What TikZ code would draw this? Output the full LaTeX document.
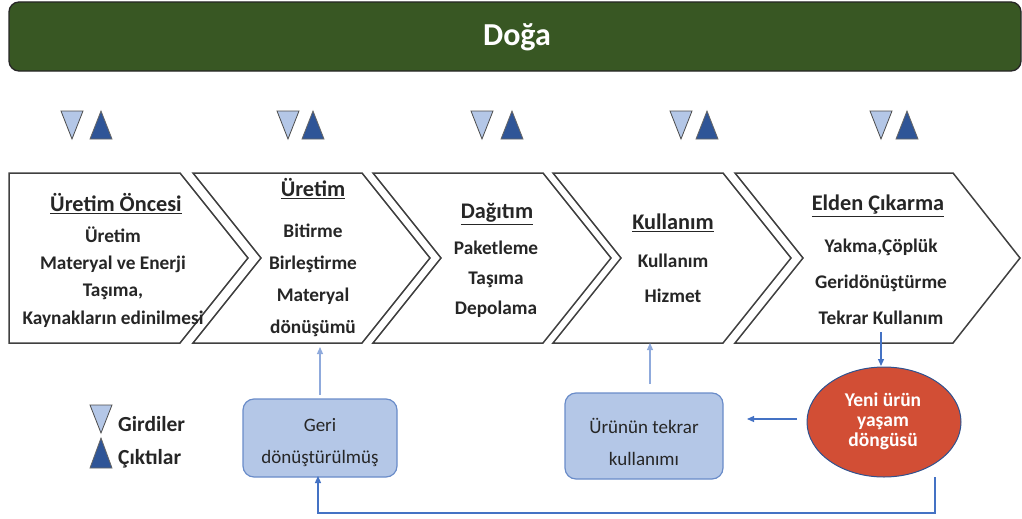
\documentclass[tikz,border=0pt]{standalone}
\usepackage{fontspec}
\setmainfont{Carlito}
\usetikzlibrary{shapes.geometric,arrows.meta}
\definecolor{doga}{HTML}{385723}
\definecolor{lblue}{HTML}{B4C7E7}
\definecolor{dblue}{HTML}{2F5597}
\definecolor{boxedge}{HTML}{6A8CC9}
\definecolor{arrblue}{HTML}{4472C4}
\definecolor{arrlight}{HTML}{8FAADC}
\definecolor{redfill}{HTML}{D24E35}
\definecolor{elledge}{HTML}{2F528F}
\definecolor{chevline}{HTML}{404040}
\tikzset{
  chev/.style={draw=chevline, line width=1.5pt, fill=white, line join=miter},
  head/.style={font=\fontsize{22.3}{24}\selectfont\bfseries, text=black!85},
  body/.style={align=center, text=black!85},
  tridown/.style={draw=black!70, line width=0.8pt, fill=lblue},
  triup/.style={draw=black!60, line width=0.8pt, fill=dblue},
  bluebox/.style={draw=boxedge, line width=1.2pt, fill=lblue, rounded corners=11pt, align=center,
    font=\fontsize{18.5}{32}\selectfont, text=black!85, inner sep=0pt},
  arr/.style={draw=arrblue, line width=1.2pt, -{Triangle[length=7pt,width=6pt]}},
  arrl/.style={draw=arrlight, line width=1.2pt, -{Triangle[length=7pt,width=6pt]}},
}
\begin{document}
\begin{tikzpicture}[x=1pt,y=-1pt]
\useasboundingbox (0,0) rectangle (1022,519);
% banner
\draw[fill=doga, draw=black!85, line width=1.3pt, rounded corners=10pt] (9,2) rectangle (1021,71);
\node[text=white, font=\fontsize{32}{36}\selectfont\bfseries] (doga) at (517,37) {Doğa};
% triangle pairs
\foreach \a/\b [count=\i] in {61/90, 277/302, 471/501, 670/696, 870/896}{
  \draw[tridown] (\a,111) -- (\a+22,111) -- (\a+11,139) -- cycle;
  \draw[triup] (\b,139) -- (\b+22,139) -- (\b+11,111) -- cycle;
}
% chevrons
\draw[chev] (9,173) -- (180,173) -- (248,258) -- (180,343) -- (9,343) -- cycle;
\draw[chev] (193,173) -- (362,173) -- (430,258) -- (362,343) -- (193,343) -- (261,258) -- cycle;
\draw[chev] (373,173) -- (543,173) -- (611,258) -- (543,343) -- (373,343) -- (441,258) -- cycle;
\draw[chev] (553,173) -- (723,173) -- (791,258) -- (723,343) -- (553,343) -- (621,258) -- cycle;
\draw[chev] (735,173) -- (953,173) -- (1020,258) -- (953,343) -- (735,343) -- (803,258) -- cycle;
% chevron texts
\node[head] (h1) at (116,204) {\underline{Üretim Öncesi}};
\node[body, font=\fontsize{19.3}{27.2}\selectfont\bfseries] (b1) at (113,277) {Üretim\\Materyal ve Enerji\\Taşıma,\\Kaynakların edinilmesi};
\node[head] (h2) at (313,189) {\underline{Üretim}};
\node[body, font=\fontsize{19.3}{32}\selectfont\bfseries] (b2) at (313,280) {Bitirme\\Birleştirme\\Materyal\\dönüşümü};
\node[head] (h3) at (497,214) {\underline{Dağıtım}};
\node[body, font=\fontsize{19.3}{30}\selectfont\bfseries] (b3) at (496,279) {Paketleme\\Taşıma\\Depolama};
\node[head] (h4) at (673,223) {\underline{Kullanım}};
\node[body, font=\fontsize{19.3}{35}\selectfont\bfseries] (b4) at (673,278) {Kullanım\\Hizmet};
\node[head] (h5) at (878,206) {\underline{Elden Çıkarma}};
\node[body, font=\fontsize{19.3}{36}\selectfont\bfseries] (b5) at (881,282) {Yakma,Çöplük\\Geridönüştürme\\Tekrar Kullanım};
% legend
\draw[tridown] (90,405) -- (112,405) -- (101,433) -- cycle;
\draw[triup] (90,468) -- (112,468) -- (101,438) -- cycle;
\node[anchor=west, font=\fontsize{21.5}{24}\selectfont\bfseries, text=black!85, inner sep=0pt] (gir) at (118,424) {Girdiler};
\node[anchor=west, font=\fontsize{21.5}{24}\selectfont\bfseries, text=black!85, inner sep=0pt] (cik) at (118,459) {Çıktılar};
% bottom boxes
\node[bluebox, minimum width=154pt, minimum height=78pt] (g) at (320,438) {};
\node[align=center, font=\fontsize{19}{32}\selectfont, text=black!85] (gt) at (320,443) {Geri\\dönüştürülmüş};
\node[bluebox, minimum width=158pt, minimum height=86pt] (u) at (644,436) {};
\node[align=center, font=\fontsize{19}{32}\selectfont, text=black!85] (ut) at (644,442) {Ürünün tekrar\\kullanımı};
\node[ellipse, draw=elledge, line width=1pt, fill=redfill, minimum width=154pt, minimum height=110pt, inner sep=0pt] (e) at (884,422) {};
\node[align=center, text=white, font=\fontsize{19.5}{20}\selectfont\bfseries] (et) at (883,421) {Yeni ürün\\yaşam\\döngüsü};
% coordinates for connectors
\coordinate (c2b) at (320,347);
\coordinate (gtop) at (320,395);
\coordinate (c4b) at (650,343);
\coordinate (utop) at (650,384);
\coordinate (c5b) at (881,332);
\coordinate (etop) at (881,366);
\coordinate (ewest) at (797,419);
\coordinate (uright) at (747,419);
\coordinate (lr) at (935,477);
\coordinate (lc1) at (935,513);
\coordinate (lc2) at (318,513);
\coordinate (gbot) at (318,476);
% connectors
\draw[arrl] (gtop) -- (c2b);
\draw[arrl] (utop) -- (c4b);
\draw[arr] (c5b) -- (etop);
\draw[arr] (ewest) -- (uright);
\draw[arr] (lr) -- (lc1) -- (lc2) -- (gbot);
\end{tikzpicture}
\end{document}
